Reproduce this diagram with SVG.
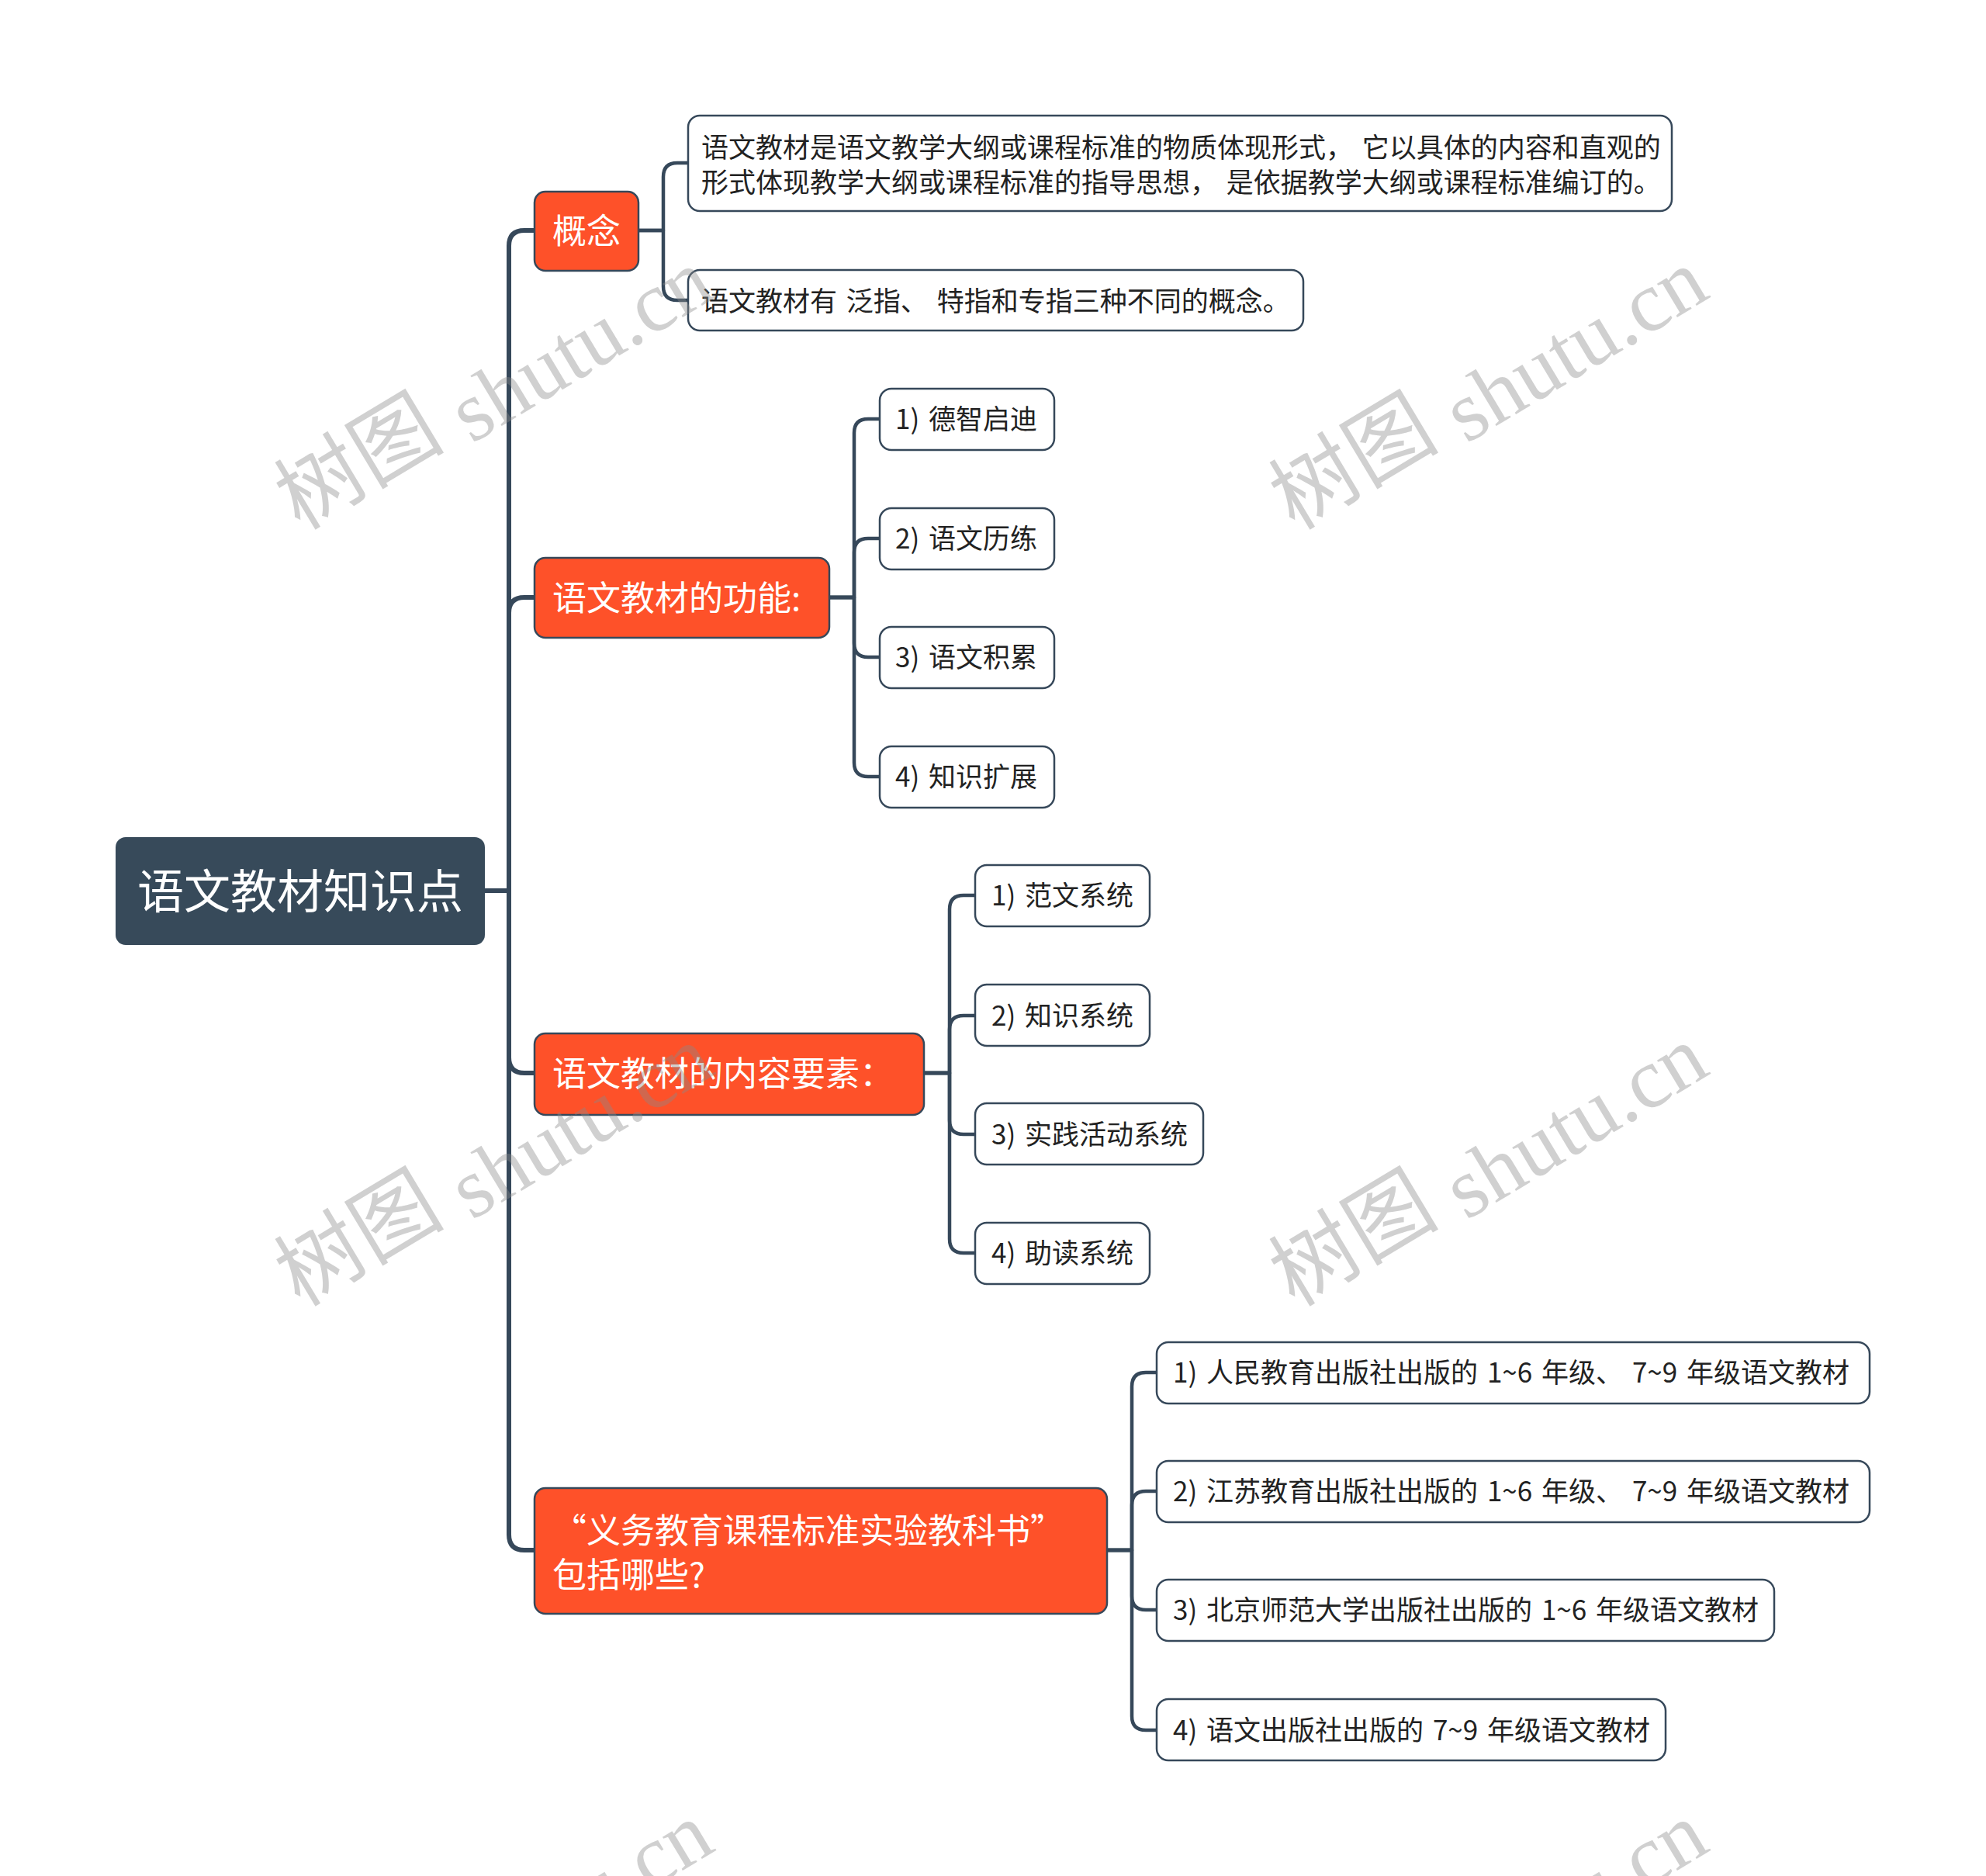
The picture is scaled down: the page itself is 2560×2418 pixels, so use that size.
<svg xmlns="http://www.w3.org/2000/svg" width="2560" height="2418" viewBox="0 0 2560 2418">
<style>
.bg{fill:#ffffff}
.root{fill:#374a5a}
.l1{fill:#fe5129;stroke:#36485a;stroke-width:2.5}
.l2{fill:#ffffff;stroke:#36485a;stroke-width:2.5}
.t0{font-family:"Noto Sans CJK SC","Noto Sans",sans-serif;font-size:60px;fill:#ffffff}
.t1{font-family:"Noto Sans CJK SC","Noto Sans",sans-serif;font-size:44px;fill:#ffffff}
.t2{font-family:"Noto Sans CJK SC","Noto Sans",sans-serif;font-size:35px;word-spacing:4px;fill:#222222}
.c1{fill:none;stroke:#36485a;stroke-width:6;stroke-linejoin:round}
.c2{fill:none;stroke:#36485a;stroke-width:4.5;stroke-linejoin:round}
.wm{font-family:"Liberation Serif","Noto Sans CJK SC",serif;font-size:110px;fill:#8a8a8a;fill-opacity:0.4}
</style>
<rect class="bg" x="0" y="0" width="2560" height="2418"/>
<g id="connectors">
<path class="c1" d="M625 1148 H656 V317 Q656 297 676 297 H689"/>
<path class="c1" d="M625 1148 H656 V790 Q656 770 676 770 H689"/>
<path class="c1" d="M625 1148 H656 V1363 Q656 1383 676 1383 H689"/>
<path class="c1" d="M625 1148 H656 V1978 Q656 1998 676 1998 H689"/>
<path class="c2" d="M823 297 H855 V228 Q855 210 873 210 H887"/>
<path class="c2" d="M823 297 H855 V369 Q855 387 873 387 H887"/>
<path class="c2" d="M1069 770 H1101 V558 Q1101 540 1119 540 H1134"/>
<path class="c2" d="M1069 770 H1101 V712 Q1101 694 1119 694 H1134"/>
<path class="c2" d="M1069 770 H1101 V829 Q1101 847 1119 847 H1134"/>
<path class="c2" d="M1069 770 H1101 V983 Q1101 1001 1119 1001 H1134"/>
<path class="c2" d="M1191 1383 H1224 V1172 Q1224 1154 1242 1154 H1257"/>
<path class="c2" d="M1191 1383 H1224 V1327 Q1224 1309 1242 1309 H1257"/>
<path class="c2" d="M1191 1383 H1224 V1444 Q1224 1462 1242 1462 H1257"/>
<path class="c2" d="M1191 1383 H1224 V1597 Q1224 1615 1242 1615 H1257"/>
<path class="c2" d="M1427 1998 H1459 V1787 Q1459 1769 1477 1769 H1491"/>
<path class="c2" d="M1427 1998 H1459 V1940 Q1459 1922 1477 1922 H1491"/>
<path class="c2" d="M1427 1998 H1459 V2057 Q1459 2075 1477 2075 H1491"/>
<path class="c2" d="M1427 1998 H1459 V2212 Q1459 2230 1477 2230 H1491"/>
</g>
<g id="root">
<rect class="root" x="149" y="1079" width="476" height="139" rx="13"/>
<text class="t0" x="387" y="1171" text-anchor="middle">语文教材知识点</text>
</g>
<g id="n-gainian">
<rect class="l1" x="689" y="247" width="134" height="102" rx="14"/>
<text class="t1" x="712" y="314">概念</text>
</g>
<g id="n-gainian-1">
<rect class="l2" x="887" y="149" width="1268" height="123" rx="15"/>
<text class="t2" x="904" y="203">语文教材是语文教学大纲或课程标准的物质体现形式， 它以具体的内容和直观的</text>
<text class="t2" x="904" y="248">形式体现教学大纲或课程标准的指导思想， 是依据教学大纲或课程标准编订的。</text>
</g>
<g id="n-gainian-2">
<rect class="l2" x="887" y="348" width="793" height="78" rx="15"/>
<text class="t2" x="904" y="401">语文教材有 泛指、 特指和专指三种不同的概念。</text>
</g>
<g id="n-gongneng">
<rect class="l1" x="689" y="719" width="380" height="103" rx="14"/>
<text class="t1" x="712" y="787">语文教材的功能:</text>
</g>
<g id="n-gongneng-1">
<rect class="l2" x="1134" y="501" width="225" height="79" rx="15"/>
<text class="t2" x="1154" y="553">1) 德智启迪</text>
</g>
<g id="n-gongneng-2">
<rect class="l2" x="1134" y="655" width="225" height="79" rx="15"/>
<text class="t2" x="1154" y="707">2) 语文历练</text>
</g>
<g id="n-gongneng-3">
<rect class="l2" x="1134" y="808" width="225" height="79" rx="15"/>
<text class="t2" x="1154" y="860">3) 语文积累</text>
</g>
<g id="n-gongneng-4">
<rect class="l2" x="1134" y="962" width="225" height="79" rx="15"/>
<text class="t2" x="1154" y="1014">4) 知识扩展</text>
</g>
<g id="n-neirong">
<rect class="l1" x="689" y="1332" width="502" height="105" rx="14"/>
<text class="t1" x="712" y="1400">语文教材的内容要素：</text>
</g>
<g id="n-neirong-1">
<rect class="l2" x="1257" y="1115" width="225" height="79" rx="15"/>
<text class="t2" x="1278" y="1167">1) 范文系统</text>
</g>
<g id="n-neirong-2">
<rect class="l2" x="1257" y="1269" width="225" height="79" rx="15"/>
<text class="t2" x="1278" y="1322">2) 知识系统</text>
</g>
<g id="n-neirong-3">
<rect class="l2" x="1257" y="1422" width="294" height="79" rx="15"/>
<text class="t2" x="1278" y="1475">3) 实践活动系统</text>
</g>
<g id="n-neirong-4">
<rect class="l2" x="1257" y="1576" width="225" height="79" rx="15"/>
<text class="t2" x="1278" y="1628">4) 助读系统</text>
</g>
<g id="n-jiaokeshu">
<rect class="l1" x="689" y="1918" width="738" height="162" rx="14"/>
<text class="t1" x="712" y="1989">“义务教育课程标准实验教科书”</text>
<text class="t1" x="712" y="2046">包括哪些?</text>
</g>
<g id="n-jiaokeshu-1">
<rect class="l2" x="1491" y="1730" width="919" height="79" rx="15"/>
<text class="t2" x="1512" y="1782">1) 人民教育出版社出版的 1~6 年级、 7~9 年级语文教材</text>
</g>
<g id="n-jiaokeshu-2">
<rect class="l2" x="1491" y="1883" width="919" height="79" rx="15"/>
<text class="t2" x="1512" y="1935">2) 江苏教育出版社出版的 1~6 年级、 7~9 年级语文教材</text>
</g>
<g id="n-jiaokeshu-3">
<rect class="l2" x="1491" y="2036" width="796" height="79" rx="15"/>
<text class="t2" x="1512" y="2088">3) 北京师范大学出版社出版的 1~6 年级语文教材</text>
</g>
<g id="n-jiaokeshu-4">
<rect class="l2" x="1491" y="2190" width="656" height="79" rx="15"/>
<text class="t2" x="1512" y="2243">4) 语文出版社出版的 7~9 年级语文教材</text>
</g>
<g id="watermark">
<text class="wm" x="925" y="382" text-anchor="end" transform="rotate(-31 925 382)"><tspan dy="-18">树图</tspan><tspan dy="18"> shutu.cn</tspan></text>
<text class="wm" x="2207" y="382" text-anchor="end" transform="rotate(-31 2207 382)"><tspan dy="-18">树图</tspan><tspan dy="18"> shutu.cn</tspan></text>
<text class="wm" x="925" y="1383" text-anchor="end" transform="rotate(-31 925 1383)"><tspan dy="-18">树图</tspan><tspan dy="18"> shutu.cn</tspan></text>
<text class="wm" x="2207" y="1383" text-anchor="end" transform="rotate(-31 2207 1383)"><tspan dy="-18">树图</tspan><tspan dy="18"> shutu.cn</tspan></text>
<text class="wm" x="925" y="2384" text-anchor="end" transform="rotate(-31 925 2384)"><tspan dy="-18">树图</tspan><tspan dy="18"> shutu.cn</tspan></text>
<text class="wm" x="2207" y="2384" text-anchor="end" transform="rotate(-31 2207 2384)"><tspan dy="-18">树图</tspan><tspan dy="18"> shutu.cn</tspan></text>
</g>
</svg>
